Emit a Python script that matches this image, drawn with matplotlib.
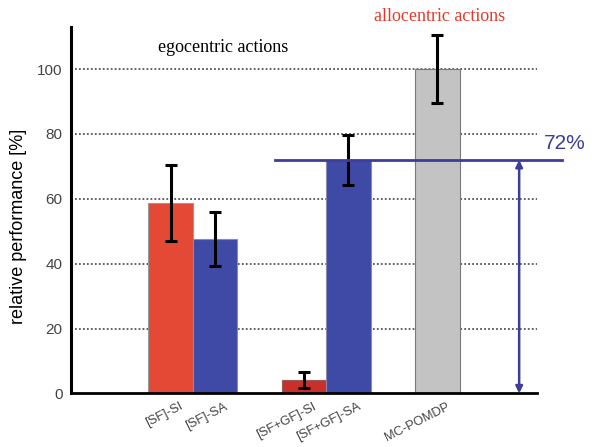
import matplotlib
matplotlib.use("Agg")
import matplotlib.pyplot as plt
import matplotlib.transforms as mtransforms

plt.rcParams["font.family"] = ["Liberation Sans", "DejaVu Sans"]

# Bar data
labels = ["[SF]-SI", "[SF]-SA", "[SF+GF]-SI", "[SF+GF]-SA", "MC-POMDP"]
positions = [0, 1, 3, 4, 6]
values = [58.8, 47.5, 4.1, 72.0, 100.0]
errors = [11.7, 8.3, 2.6, 7.6, 10.4]
colors = ["#e34935", "#3f4aa7", "#c9302a", "#3f4aa7", "#c3c3c3"]
edges = ["#9a9a9a", "#8a8aa8", "#9a5a5a", "#8a8aa8", "#7a7a7a"]
yticks = [0, 20, 40, 60, 80, 100]
reference_level = 72

fig = plt.figure(figsize=(5.92, 4.47), dpi=100)
ax = fig.add_axes([0.12, 0.12, 0.787, 0.8196])

ax.set_xlim(-2.24, 8.24)
ax.set_ylim(0, 113)

# dotted grid lines
for t in yticks[1:]:
    ax.plot([-2.15, 8.24], [t, t], linestyle=(0, (1, 1.2)), color="#555555",
            linewidth=1.3, zorder=0)

ax.bar(positions, values, width=1.0, color=colors, edgecolor=edges,
       linewidth=0.8, zorder=2)
ax.errorbar(positions, values, yerr=errors, fmt="none", ecolor="black",
            elinewidth=2.2, capsize=4, capthick=2.2, zorder=3)

# 72 % reference line and arrow
line_color = "#3d3d9a"
ax.plot([2.35, 8.8], [reference_level, reference_level], color=line_color,
        linewidth=2.0, clip_on=False, zorder=4)
ax.annotate("", xy=(7.84, 0), xytext=(7.84, reference_level),
            arrowprops=dict(arrowstyle="<|-|>", color=line_color, lw=1.8,
                            mutation_scale=10, shrinkA=0, shrinkB=0),
            zorder=4)
ax.text(8.4, reference_level + 2.2, "72%", color=line_color, fontsize=15,
        ha="left", va="bottom", clip_on=False)

# group annotations
ax.text(1.17, 104, "egocentric actions", family="Liberation Serif",
        fontsize=13, color="black", ha="center", va="bottom")
ax.text(6.05, 113.5, "allocentric actions", family="Liberation Serif",
        fontsize=13, color="#e03c2e", ha="center", va="bottom", clip_on=False)

# axes styling
ax.spines["top"].set_visible(False)
ax.spines["right"].set_visible(False)
ax.spines["left"].set_linewidth(2.2)
ax.spines["bottom"].set_linewidth(2.0)
ax.set_yticks(yticks)
ax.set_yticklabels([str(t) for t in yticks], color="#444444", fontsize=11)
ax.tick_params(axis="y", length=0, pad=6)
ax.set_ylabel("relative performance [%]", fontsize=13, labelpad=6)
ax.yaxis.set_label_coords(-0.095, 0.455)

ax.set_xticks(positions)
ax.set_xticklabels(labels, rotation=27, ha="right", rotation_mode="anchor",
                   fontsize=9.3, color="#444444")
ax.tick_params(axis="x", length=0, pad=5)
offset = mtransforms.ScaledTranslation(9 / 100, 0, fig.dpi_scale_trans)
for lbl in ax.get_xticklabels():
    lbl.set_transform(lbl.get_transform() + offset)

fig.savefig("out.png", dpi=100)
